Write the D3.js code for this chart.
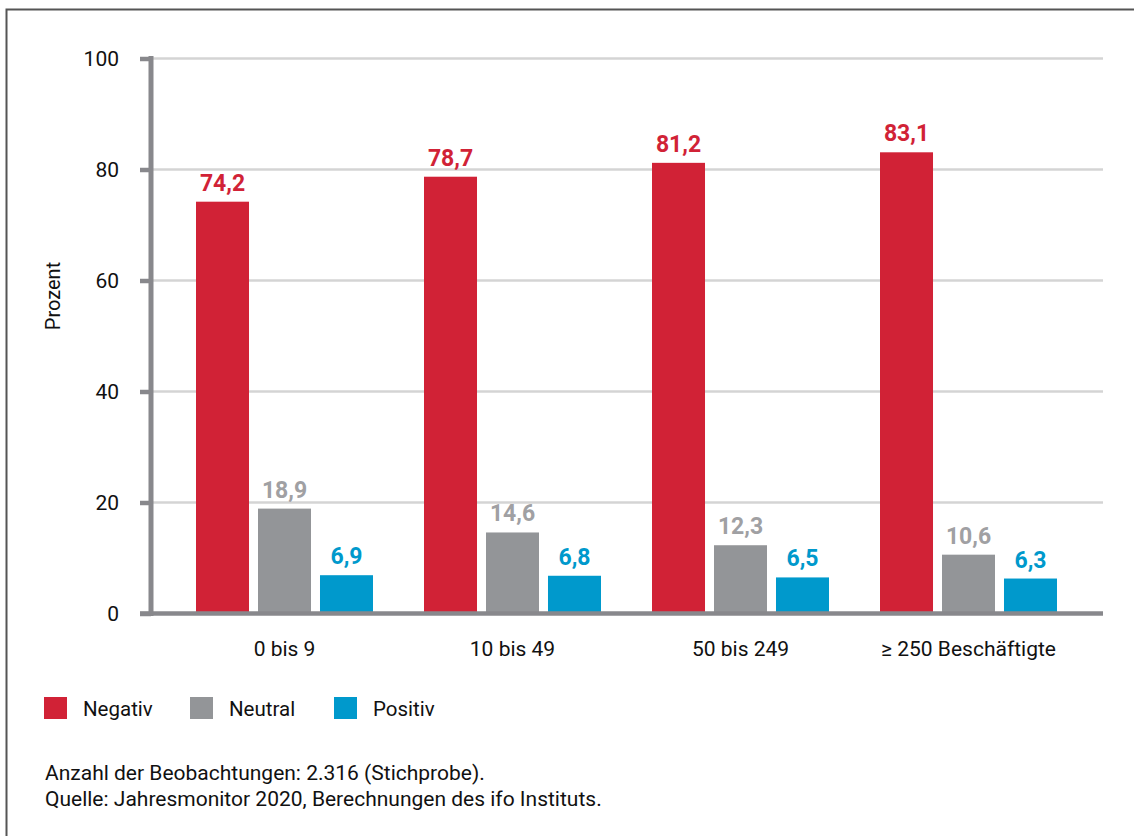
<!DOCTYPE html>
<html>
<head>
<meta charset="utf-8">
<script src="https://cdn.jsdelivr.net/npm/d3@7"></script>
<style>
  html, body { margin: 0; padding: 0; background: #fff; }
  svg { display: block; }
  text { font-family: Roboto, "Open Sans", sans-serif; }
</style>
</head>
<body>
<svg id="chart" width="1134" height="836"></svg>
<script>
const categories = ["0 bis 9", "10 bis 49", "50 bis 249", "\u2265 250 Besch\u00e4ftigte"];
const seriesNames = ["Negativ", "Neutral", "Positiv"];
const negativ = [74.2, 78.7, 81.2, 83.1];
const neutral = [18.9, 14.6, 12.3, 10.6];
const positiv = [6.9, 6.8, 6.5, 6.3];
const yTicks = [0, 20, 40, 60, 80, 100];
const footnotes = ["Anzahl der Beobachtungen: 2.316 (Stichprobe).", "Quelle: Jahresmonitor 2020, Berechnungen des ifo Instituts."];

const colors = { "Negativ": "#d12236", "Neutral": "#939598", "Positiv": "#0099cc" };
const labelColors = { "Negativ": "#d12236", "Neutral": "#a0a0a3", "Positiv": "#0099cc" };
const seriesData = { "Negativ": negativ, "Neutral": neutral, "Positiv": positiv };

const svg = d3.select("#chart");

// frame
svg.append("rect").attr("x", 6.5).attr("y", 9.5).attr("width", 1140).attr("height", 840)
  .attr("fill", "none").attr("stroke", "#555").attr("stroke-width", 2);

const y = d3.scaleLinear().domain([0, 100]).range([613.5, 58.5]);
const x0 = d3.scaleBand().domain(categories).range([170.5, 1082.5]).paddingInner(0).paddingOuter(0);
const x1 = d3.scaleBand().domain(seriesNames).range([0, 177]).paddingInner(0.145).paddingOuter(0);

const axisLeftX = 151;
const plotRight = 1103;

// gridlines
svg.append("g").selectAll("line").data(yTicks.filter(d => d > 0)).join("line")
  .attr("x1", axisLeftX).attr("x2", plotRight)
  .attr("y1", d => y(d)).attr("y2", d => y(d))
  .attr("stroke", "#d4d4d4").attr("stroke-width", 2.5);

// y axis via d3
const yAxis = d3.axisLeft(y).tickValues(yTicks).tickSize(11).tickPadding(21).tickFormat(d3.format("d"));
const gy = svg.append("g").attr("transform", `translate(${axisLeftX},0)`).call(yAxis);
gy.select(".domain").remove();
gy.selectAll(".tick line").attr("stroke", "#88888c").attr("stroke-width", 4.5);
gy.selectAll(".tick text").attr("font-size", 21).attr("fill", "#111")
  .attr("font-family", "Roboto, sans-serif");
// vertical axis line
svg.append("line").attr("x1", axisLeftX).attr("x2", axisLeftX).attr("y1", 56).attr("y2", 616)
  .attr("stroke", "#88888c").attr("stroke-width", 5);

// bars
const groups = svg.append("g").selectAll("g").data(categories).join("g")
  .attr("transform", d => `translate(${x0(d) + (x0.bandwidth() - 177) / 2},0)`);

groups.selectAll("rect").data((c, i) => seriesNames.map(s => ({ s, v: seriesData[s][i] }))).join("rect")
  .attr("x", d => x1(d.s)).attr("width", x1.bandwidth())
  .attr("y", d => y(d.v)).attr("height", d => y(0) - y(d.v))
  .attr("fill", d => colors[d.s]);

groups.selectAll("text.val").data((c, i) => seriesNames.map(s => ({ s, v: seriesData[s][i] }))).join("text")
  .attr("class", "val")
  .attr("x", d => x1(d.s) + x1.bandwidth() / 2)
  .attr("y", d => y(d.v) - 11)
  .attr("text-anchor", "middle")
  .attr("font-size", 23).attr("font-weight", "bold")
  .attr("fill", d => labelColors[d.s])
  .text(d => d3.format(".1f")(d.v).replace(".", ","));

// x axis
const xAxis = d3.axisBottom(x0).tickSize(0).tickPadding(28);
const gx = svg.append("g").attr("transform", `translate(0,${y(0)})`).call(xAxis);
gx.select(".domain").remove();
gx.selectAll(".tick text").attr("font-size", 21).attr("fill", "#111").attr("font-family", "Roboto, sans-serif");
svg.append("line").attr("x1", 140).attr("x2", plotRight).attr("y1", y(0)).attr("y2", y(0))
  .attr("stroke", "#88888c").attr("stroke-width", 4.5);

// y label
svg.append("text").attr("transform", "translate(60,296) rotate(-90)")
  .attr("text-anchor", "middle").attr("font-size", 20).attr("fill", "#111").text("Prozent");

// legend
const legendX = [44, 190, 334];
const lg = svg.append("g").selectAll("g").data(seriesNames).join("g")
  .attr("transform", (d, i) => `translate(${legendX[i]},697)`);
lg.append("rect").attr("width", 23).attr("height", 22).attr("fill", d => colors[d]);
lg.append("text").attr("x", 39).attr("y", 19).attr("font-size", 20.5).attr("fill", "#111").text(d => d);

// footnotes
svg.append("g").selectAll("text").data(footnotes).join("text")
  .attr("x", 45).attr("y", (d, i) => 780 + i * 26)
  .attr("font-size", 21).attr("fill", "#111").text(d => d);
</script>
</body>
</html>
